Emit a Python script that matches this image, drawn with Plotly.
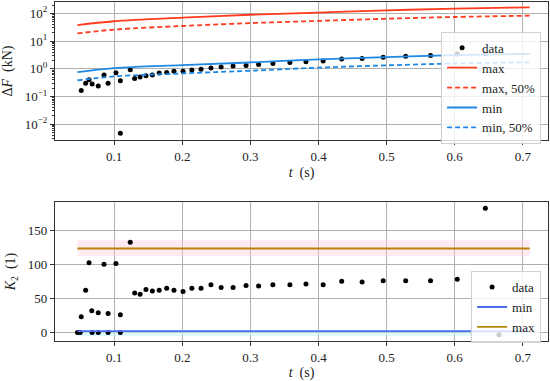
import plotly.graph_objects as go
from plotly.subplots import make_subplots

# ---- top panel data ----
t_top = [0.0515, 0.058, 0.063, 0.0676, 0.0765, 0.085, 0.091, 0.1025, 0.109, 0.109,
         0.1235, 0.130, 0.138, 0.1466, 0.156, 0.166, 0.177, 0.1877, 0.201, 0.214,
         0.2275, 0.242, 0.257, 0.2745, 0.2936, 0.312, 0.333, 0.358, 0.3816, 0.4068,
         0.434, 0.464, 0.495, 0.528, 0.5645, 0.6037, 0.645]
dF_data = [0.166, 0.30, 0.40, 0.28, 0.24, 0.59, 0.30, 0.72, 0.37, 0.0047,
           0.92, 0.45, 0.50, 0.56, 0.59, 0.70, 0.74, 0.82, 0.82, 0.90,
           0.97, 1.06, 1.15, 1.25, 1.32, 1.43, 1.56, 1.69, 1.79, 1.89,
           2.23, 2.36, 2.63, 2.86, 3.02, 3.38, 3.47]

t_line = [0.046, 0.1, 0.2, 0.3, 0.4, 0.5, 0.6, 0.71]
dF_max = [37.6, 52, 70, 89, 107, 128, 148, 165]
dF_max50 = [18.8, 26, 35, 44.5, 53.5, 64, 74, 82.5]
dF_min = [0.76, 1.06, 1.36, 1.69, 2.2, 2.65, 3.1, 3.45]
dF_min50 = [0.38, 0.53, 0.68, 0.85, 1.1, 1.33, 1.55, 1.72]

y_top_ticks = [0.01, 0.1, 1, 10, 100]
y_top_labels = ["10<sup>\u22122</sup>", "10<sup>\u22121</sup>", "10<sup>0</sup>",
                "10<sup>1</sup>", "10<sup>2</sup>"]

# ---- bottom panel data ----
t_bot = [0.046, 0.050, 0.0515, 0.058, 0.063, 0.067, 0.0676, 0.0765, 0.0765, 0.085,
         0.091, 0.091, 0.1025, 0.109, 0.109, 0.1235, 0.130, 0.138, 0.1466, 0.156,
         0.166, 0.177, 0.1877, 0.201, 0.214, 0.2275, 0.242, 0.257, 0.2745, 0.2936,
         0.312, 0.333, 0.358, 0.3816, 0.4068, 0.434, 0.464, 0.495, 0.528, 0.5645,
         0.6037, 0.645, 0.665]
K2_data = [0, 0, 23, 62, 102, 32, 0, 29, 0, 100,
           28, 0, 101, 26, 0, 132, 58, 56, 63, 61,
           62, 65, 62, 60, 65, 65, 70, 66, 66, 69,
           68, 70, 70, 71, 70, 75, 74, 76, 76, 76,
           78, 182, -3]
t_const = [0.046, 0.71]
K2_min = [2, 2]
K2_max = [123, 123]
K2_min_band_lo = [-5, -5]
K2_max_band_lo = [112, 112]
K2_max_band_hi = [135, 135]

x_ticks = [0.1, 0.2, 0.3, 0.4, 0.5, 0.6, 0.7]
y_bot_ticks = [0, 50, 100, 150]

RED = "#ff3b1f"
BLUE = "#1e88e5"
BLUE2 = "#4a6cf0"
GOLD = "#b8860b"
FONT = "Liberation Serif"
TXT = "#222222"

fig = make_subplots(rows=2, cols=1, vertical_spacing=0.18)

# top traces
fig.add_trace(go.Scatter(x=t_top, y=dF_data, mode="markers", name="data",
                         marker=dict(color="black", size=5), legend="legend"), row=1, col=1)
fig.add_trace(go.Scatter(x=t_line, y=dF_max, mode="lines", name="max", line_shape="spline",
                         line=dict(color=RED, width=1.8), legend="legend"), row=1, col=1)
fig.add_trace(go.Scatter(x=t_line, y=dF_max50, mode="lines", name="max, 50%", line_shape="spline",
                         line=dict(color=RED, width=1.8, dash="5px,3px"), legend="legend"), row=1, col=1)
fig.add_trace(go.Scatter(x=t_line, y=dF_min, mode="lines", name="min", line_shape="spline",
                         line=dict(color=BLUE, width=1.8), legend="legend"), row=1, col=1)
fig.add_trace(go.Scatter(x=t_line, y=dF_min50, mode="lines", name="min, 50%", line_shape="spline",
                         line=dict(color=BLUE, width=1.8, dash="5px,3px"), legend="legend"), row=1, col=1)

# bottom bands
fig.add_trace(go.Scatter(x=t_const, y=K2_max_band_lo, mode="lines", line=dict(width=0),
                         showlegend=False, hoverinfo="skip"), row=2, col=1)
fig.add_trace(go.Scatter(x=t_const, y=K2_max_band_hi, mode="lines", line=dict(width=0),
                         fill="tonexty", fillcolor="rgba(255,200,225,0.4)",
                         showlegend=False, hoverinfo="skip"), row=2, col=1)
fig.add_trace(go.Scatter(x=t_const, y=K2_min_band_lo, mode="lines", line=dict(width=0),
                         showlegend=False, hoverinfo="skip"), row=2, col=1)
fig.add_trace(go.Scatter(x=t_const, y=K2_min, mode="lines", line=dict(width=0),
                         fill="tonexty", fillcolor="rgba(190,245,250,0.5)",
                         showlegend=False, hoverinfo="skip"), row=2, col=1)
# bottom traces
fig.add_trace(go.Scatter(x=t_bot, y=K2_data, mode="markers", name="data",
                         marker=dict(color="black", size=5), legend="legend2"), row=2, col=1)
fig.add_trace(go.Scatter(x=t_const, y=K2_min, mode="lines", name="min",
                         line=dict(color=BLUE2, width=1.8), legend="legend2"), row=2, col=1)
fig.add_trace(go.Scatter(x=t_const, y=K2_max, mode="lines", name="max",
                         line=dict(color=GOLD, width=1.8), legend="legend2"), row=2, col=1)

axis_common = dict(showline=True, mirror=True, linecolor="#333333", linewidth=1.1,
                   ticks="outside", ticklen=4, tickcolor="#333333", tickwidth=1,
                   showgrid=True, gridcolor="#b0b0b0", gridwidth=0.8, zeroline=False,
                   tickfont=dict(family=FONT, size=13, color=TXT))

fig.update_xaxes(**axis_common)
fig.update_yaxes(**axis_common)

for r in (1, 2):
    fig.update_xaxes(range=[0.013, 0.737], tickvals=x_ticks,
                     title=dict(text="<i>t</i>  (s)", font=dict(family=FONT, size=14, color=TXT),
                                standoff=4),
                     row=r, col=1)

fig.update_yaxes(type="log", range=[-2.57, 2.41], tickvals=y_top_ticks, ticktext=y_top_labels,
                 minor=dict(ticks="outside", ticklen=2, tickcolor="#333333", dtick="D1", showgrid=False),
                 title=dict(text="\u0394<i>F</i>  (kN)", font=dict(family=FONT, size=14, color=TXT),
                            standoff=8),
                 row=1, col=1)
fig.update_yaxes(range=[-12.3, 191], tickvals=y_bot_ticks,
                 title=dict(text="<i>K</i><sub>2</sub>  (1)", font=dict(family=FONT, size=14, color=TXT),
                            standoff=8),
                 row=2, col=1)

legend_common = dict(bgcolor="rgba(255,255,255,0.8)", bordercolor="#d0d0d0", borderwidth=1,
                     font=dict(family=FONT, size=13, color=TXT), traceorder="normal",
                     tracegroupgap=0, itemwidth=30, xanchor="right", yanchor="top")

fig.update_layout(
    width=550, height=381,
    margin=dict(l=55, r=2, t=2, b=40, autoexpand=False),
    plot_bgcolor="white", paper_bgcolor="white",
    font=dict(family=FONT, size=13, color=TXT),
    xaxis=dict(domain=[0, 1]),
    yaxis=dict(domain=[0.593, 1.0]),
    yaxis2=dict(domain=[0.0, 0.41]),
    legend=dict(x=0.986, y=0.912, **legend_common),
    legend2=dict(x=0.986, y=0.206, **legend_common),
    showlegend=True,
)

fig.write_html("out.html", config={"displayModeBar": False},
               post_script="document.body.style.margin='0px';")
